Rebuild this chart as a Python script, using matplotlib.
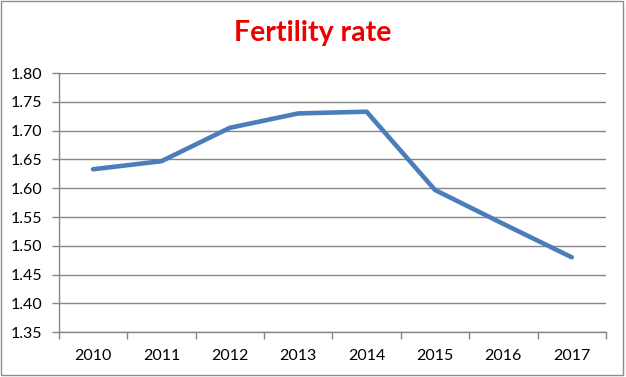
import matplotlib
matplotlib.use("Agg")
import matplotlib.pyplot as plt
from matplotlib.patches import Rectangle
import numpy as np

years = ["2010", "2011", "2012", "2013", "2014", "2015", "2016", "2017"]
fertility = [1.633, 1.647, 1.705, 1.730, 1.733, 1.597, 1.538, 1.480]
y_ticks = [1.35, 1.40, 1.45, 1.50, 1.55, 1.60, 1.65, 1.70, 1.75, 1.80]
title = "Fertility rate"

plt.rcParams['font.family'] = ['Lato', 'DejaVu Sans']

fig = plt.figure(figsize=(6.26, 3.77), dpi=100)
fig.patches.append(Rectangle((0.002, 0.005), 0.994, 0.992, transform=fig.transFigure,
                             fill=False, edgecolor='#8c8c8c', linewidth=1.0))
ax = fig.add_axes([0.094, 0.119, 0.874, 0.687])

x = np.arange(len(years))
ax.plot(x, fertility, color='#4A7EBB', linewidth=3.3, solid_capstyle='round', solid_joinstyle='round', zorder=3)

ax.set_xlim(-0.5, len(years) - 0.5)
ax.set_ylim(y_ticks[0], y_ticks[-1])
ax.set_yticks(y_ticks)
ax.set_yticklabels([f"{v:.2f}" for v in y_ticks])
ax.set_xticks(x)
ax.set_xticklabels(years)
ax.set_xticks(np.arange(-0.5, len(years), 1.0), minor=True)

ax.yaxis.grid(True, color='#868686', linewidth=1.0)
ax.set_axisbelow(True)
for s in ['top', 'right']:
    ax.spines[s].set_visible(False)
for s in ['left', 'bottom']:
    ax.spines[s].set_color('#868686')
    ax.spines[s].set_linewidth(1.0)

ax.tick_params(axis='y', length=5, width=1.0, color='#868686', pad=7, labelsize=11.5, labelcolor='black')
ax.tick_params(axis='x', which='major', length=0, pad=12, labelsize=11.5, labelcolor='black')
ax.tick_params(axis='x', which='minor', length=5, width=1.0, color='#868686')

fig.text(0.5, 0.912, title, ha='center', va='center', color='#EE0000',
         fontsize=20.5, fontweight='bold')

fig.savefig("out.png", dpi=100)
